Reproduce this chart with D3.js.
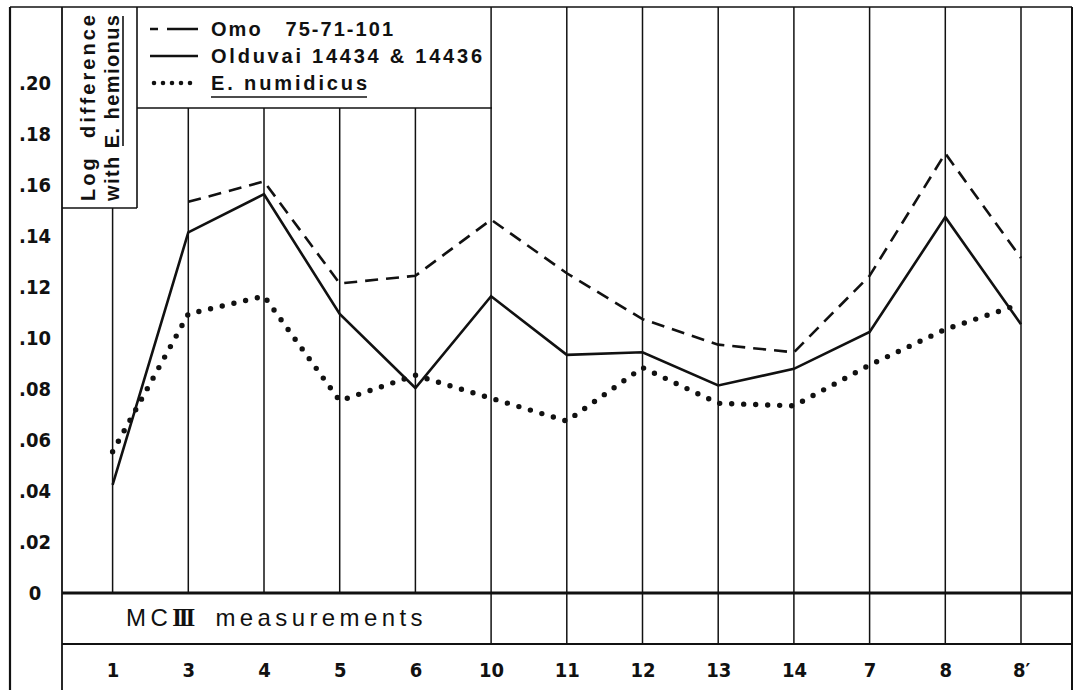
<!DOCTYPE html>
<html>
<head>
<meta charset="utf-8">
<script src="https://cdn.jsdelivr.net/npm/d3@7"></script>
<style>
  html, body { margin: 0; padding: 0; background: #fff; }
  svg { display: block; }
</style>
</head>
<body>
<svg id="chart" width="1073" height="690"></svg>
<script>
// ---- data ----
const categories = ["1", "3", "4", "5", "6", "10", "11", "12", "13", "14", "7", "8", "8\u2032"];
const omo       = [null, 0.153, 0.161, 0.121, 0.124, 0.146, 0.125, 0.107, 0.097, 0.094, 0.124, 0.172, 0.131];
const olduvai   = [0.042, 0.141, 0.156, 0.109, 0.080, 0.116, 0.093, 0.094, 0.081, 0.0875, 0.102, 0.147, 0.105];
const numidicus = [0.055, 0.109, 0.116, 0.075, 0.085, 0.076, 0.067, 0.088, 0.074, 0.073, 0.089, 0.103, 0.113];
const yTickValues = [0.20, 0.18, 0.16, 0.14, 0.12, 0.10, 0.08, 0.06, 0.04, 0.02, 0];
const yTickLabels = [".20", ".18", ".16", ".14", ".12", ".10", ".08", ".06", ".04", ".02", "0"];
const seriesNames = ["Omo   75-71-101", "Olduvai 14434 & 14436", "E. numidicus"];
const titleLines = ["Log  difference", "with E. hemionus"];
const xTitle = ["MC", "III", " measurements"];

// ---- layout ----
const svg = d3.select("#chart");
const L = { outerLeft: 10, plotLeft: 62, right: 1072, top: 7, zeroY: 593, band2: 644,
            titleRight: 137, titleBottom: 208, legendRight: 492, legendBottom: 108 };
const ink = "#111";

const x = d3.scalePoint().domain(categories).range([112.6, 1021]);
const y = d3.scaleLinear().domain([0, 0.20]).range([592, 82]);

// frame lines
const frame = svg.append("g").attr("stroke", ink).attr("fill", "none");
const seg = (x1, y1, x2, y2, w) => frame.append("line")
  .attr("x1", x1).attr("y1", y1).attr("x2", x2).attr("y2", y2).attr("stroke-width", w || 1.6);
seg(L.outerLeft, L.top, L.outerLeft, 690, 2.2);
seg(L.plotLeft, L.top, L.plotLeft, 690, 1.8);
seg(L.outerLeft, L.top, L.right, L.top, 1.6);
seg(L.right, L.top, L.right, 690, 2);
seg(L.titleRight, L.top, L.titleRight, L.titleBottom, 1.6);
seg(L.plotLeft, L.titleBottom, L.titleRight, L.titleBottom, 1.6);
seg(L.titleRight, L.legendBottom, L.legendRight, L.legendBottom, 1.6);
seg(L.plotLeft, L.band2, L.right, L.band2, 1.8);

// vertical category lines
categories.forEach((c, i) => {
  const top = i === 0 ? L.titleBottom : (i < 5 ? L.legendBottom : L.top);
  const bottom = i < 5 ? L.zeroY : L.band2;
  seg(x(c), top, x(c), bottom, 1.5);
});

// zero line (thick)
seg(L.plotLeft, L.zeroY, L.right, L.zeroY, 3);

const narrow = "'Liberation Sans Narrow', 'DejaVu Sans Condensed', 'Liberation Sans', sans-serif";

// y axis
const yAxis = d3.axisLeft(y).tickValues(yTickValues)
  .tickFormat((d, i) => yTickLabels[i]).tickSize(0).tickPadding(0);
const gy = svg.append("g").attr("transform", "translate(35,0)").call(yAxis);
gy.select(".domain").remove();
gy.selectAll("text")
  .attr("text-anchor", "middle").attr("dy", "0.35em").attr("x", 0)
  .attr("fill", ink)
  .style("font-family", narrow)
  .style("font-size", "20px").style("font-weight", "bold");

// x axis labels
const xAxis = d3.axisBottom(x).tickSize(0).tickPadding(0);
const gx = svg.append("g").attr("transform", "translate(0,660)").call(xAxis);
gx.select(".domain").remove();
gx.selectAll("text")
  .attr("dy", "0.35em").attr("y", 10).attr("fill", ink)
  .style("font-family", narrow)
  .style("font-size", "20px").style("font-weight", "bold");

// x title
const xt = svg.append("text").attr("x", 126).attr("y", 626).attr("fill", ink)
  .style("font-family", "'Liberation Sans', sans-serif").style("font-size", "24px")
  .style("letter-spacing", "4.4px");
xt.append("tspan").text(xTitle[0]);
xt.append("tspan").text(xTitle[1]).style("font-family", "'Liberation Serif', serif")
  .style("letter-spacing", "-3px").style("font-weight", "bold").style("font-size", "25px");
xt.append("tspan").text(xTitle[2]).attr("dx", 12);

// y title (rotated)
const tfont = "'Liberation Sans', Arial, sans-serif";
svg.append("text").attr("transform", "translate(95,201) rotate(-90)")
  .attr("fill", ink).style("font-family", tfont).style("font-size", "20px").style("font-weight", "bold")
  .style("white-space", "pre")
  .attr("textLength", 186).attr("lengthAdjust", "spacing").text(titleLines[0]);
svg.append("text").attr("transform", "translate(119,201) rotate(-90)")
  .attr("fill", ink).style("font-family", tfont).style("font-size", "20px").style("font-weight", "bold")
  .attr("textLength", 186).attr("lengthAdjust", "spacing").text(titleLines[1]);
// underline for E. hemionus
seg(123, 146, 123, 16, 1.6);

// series lines
const line = d3.line().defined(d => d.v !== null).x(d => x(d.c)).y(d => y(d.v));
const toPts = arr => arr.map((v, i) => ({ c: categories[i], v }));
const styles = [
  { data: omo, dash: "13 8", width: 2.6, cap: "butt" },
  { data: olduvai, dash: null, width: 2.6, cap: "butt" },
  { data: numidicus, dash: "0 12", width: 5.4, cap: "round" }
];
styles.forEach(s => {
  svg.append("path").datum(toPts(s.data)).attr("d", line)
    .attr("fill", "none").attr("stroke", ink).attr("stroke-width", s.width)
    .attr("stroke-linecap", s.cap).attr("stroke-linejoin", "miter")
    .attr("stroke-dasharray", s.dash);
});

// legend
const legY = [29, 56, 83];
const legLen = [182, 271, 156];
styles.forEach((s, i) => {
  svg.append("line").attr("x1", i === 2 ? 154 : 150).attr("x2", 198)
    .attr("y1", legY[i]).attr("y2", legY[i])
    .attr("stroke", ink).attr("stroke-width", i === 2 ? 4.6 : 2.4)
    .attr("stroke-linecap", s.cap).attr("stroke-dasharray", i === 0 ? "8 9 31" : (i === 2 ? "0 9" : null));
  svg.append("text").attr("x", 211).attr("y", legY[i]).attr("dy", "0.36em")
    .attr("fill", ink).style("font-family", tfont).style("font-size", "20px").style("font-weight", "bold")
    .style("white-space", "pre")
    .attr("textLength", legLen[i]).attr("lengthAdjust", "spacing")
    .text(seriesNames[i]);
});
// underline E. numidicus
seg(211, 97, 367, 97, 1.6);
</script>
</body>
</html>
